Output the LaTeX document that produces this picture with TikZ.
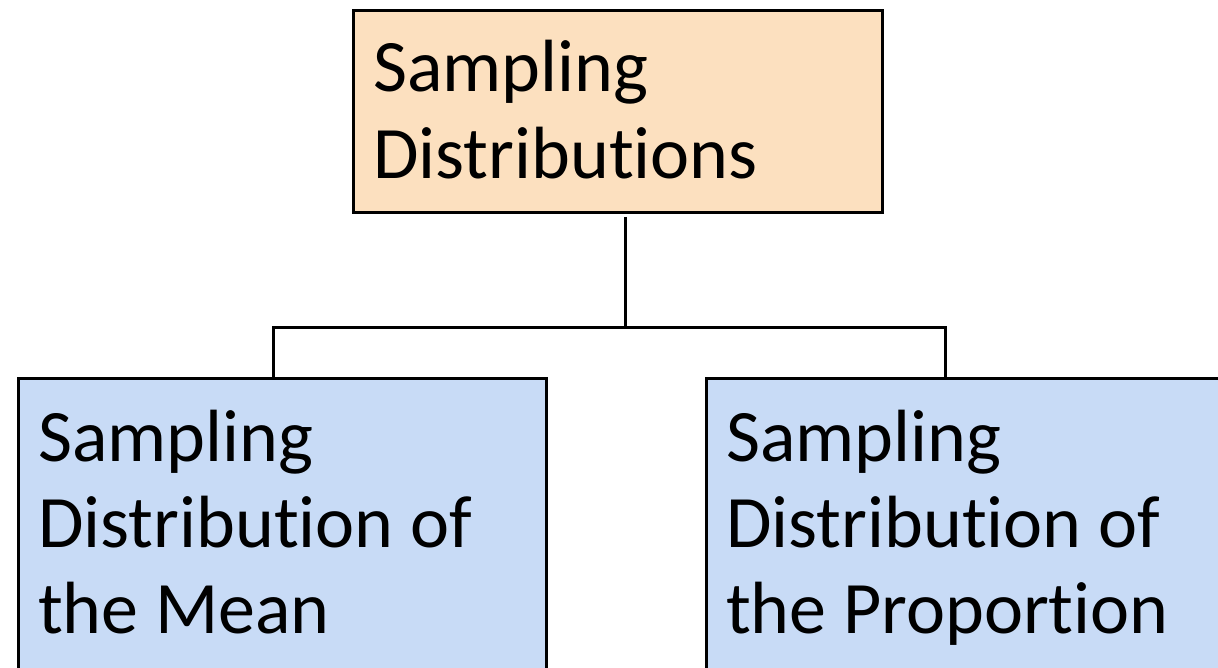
\documentclass[tikz,border=0pt]{standalone}
\usepackage{fontspec}
\setmainfont[Ligatures=NoCommon]{Carlito}
\definecolor{peach}{HTML}{FCE0BF}
\definecolor{lightblue}{HTML}{C8DBF6}
\begin{document}
\begin{tikzpicture}[x=1pt,y=1pt,
  box/.style={draw=black,line width=3pt,rectangle,inner sep=0pt,anchor=north west},
  lbl/.style={anchor=base west,inner sep=0pt,font=\fontsize{74}{87}\selectfont},
  conn/.style={draw=black,line width=3pt}]
\useasboundingbox (0,0) rectangle (1218,667);
\begin{scope}
\clip (0,0) rectangle (1218,667);
\node[box,fill=peach,minimum width=529pt,minimum height=202pt] (top) at (352,658) {};
\node[box,fill=lightblue,minimum width=528pt,minimum height=330pt] (left) at (17,290) {};
\node[box,fill=lightblue,minimum width=540pt,minimum height=330pt] (right) at (705,290) {};
\end{scope}
\node[lbl] (t1) at (373,575) {Sampling};
\node[lbl] (t2) at (373,488) {Distributions};
\node[lbl] (l1) at (38,205) {Sampling};
\node[lbl] (l2) at (38,120) {Distribution of};
\node[lbl] (l3) at (38,34) {the Mean};
\node[lbl] (r1) at (726,205) {Sampling};
\node[lbl] (r2) at (726,120) {Distribution of};
\node[lbl] (r3) at (726,34) {the Proportion};
\coordinate (tstart) at (625,450);
\coordinate (bus) at (625,339);
\coordinate (bl) at (273,339);
\coordinate (br) at (945,339);
\coordinate (le) at (273,290);
\coordinate (re) at (945,290);
\draw[conn] (tstart) -- (bus);
\draw[conn] (le) -- (bl) -- (br) -- (re);
\end{tikzpicture}
\end{document}
